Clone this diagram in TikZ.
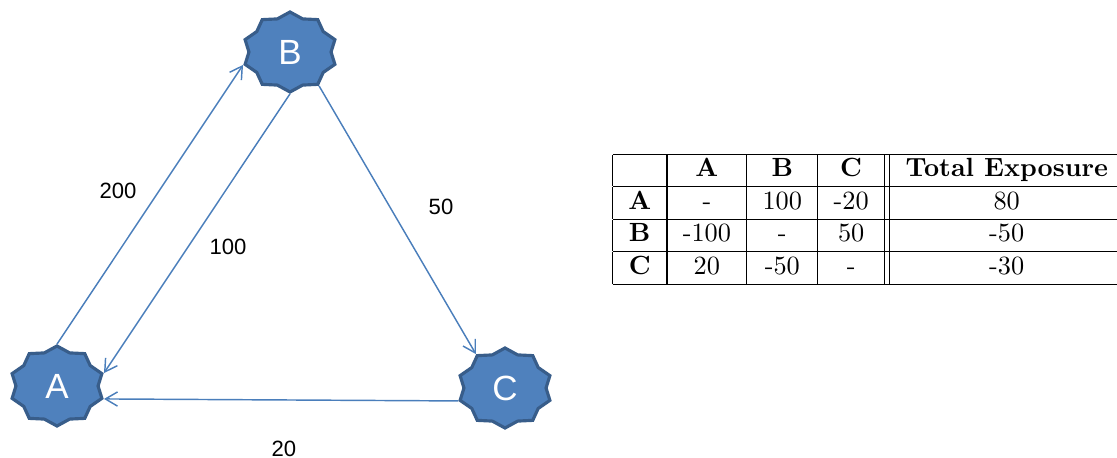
\documentclass[tikz,border=0pt]{standalone}
\usepackage{fontspec}
\newfontfamily\arialfont{Liberation Sans}
\usepackage{xcolor}
\usetikzlibrary{shapes.geometric,arrows.meta}
\definecolor{bankfill}{HTML}{4F81BD}
\definecolor{bankline}{HTML}{385D8A}
\definecolor{flowblue}{HTML}{4A7EBB}
\tikzset{>={Straight Barb[length=4.6pt,width=5.4pt]}}

\begin{document}
\begin{tikzpicture}[x=0.38pt, y=-0.38pt,
              bank/.style={star, star points=10, star point ratio=1.15, minimum size=30.4pt,
                           inner sep=0pt, fill=bankfill, draw=bankline, line width=1.2pt,
                           xscale=1.18, transform shape},
              banklabel/.style={text=white, font=\arialfont\fontsize{13.3}{15}\selectfont},
              flow/.style={->, flowblue, line width=0.55pt},
              amount/.style={font=\arialfont\fontsize{8.4}{10}\selectfont},
             ]
\useasboundingbox (0,0) rectangle (1117,458);
\coordinate (cA) at (57,386);
\coordinate (cB) at (290,52);
\coordinate (cC) at (505,388);
\node[bank] (A) at (cA) {};
\node[bank] (B) at (cB) {};
\node[bank] (C) at (cC) {};
\node[banklabel] (tA) at (A) {A};
\node[banklabel] (tB) at (B) {B};
\node[banklabel] (tC) at (C) {C};
% exposures
\draw[flow] (A.outer point 1) -- (B.outer point 4);
\draw[flow] (B.outer point 6) -- (A.outer point 9);
\draw[flow] (B.outer point 7) -- (C.outer point 2);
\draw[flow] (C.outer point 4) -- (A.outer point 8);
\node[amount] (lAB) at (118,191) {200};
\node[amount] (lBA) at (228,247) {100};
\node[amount] (lBC) at (441,207) {50};
\node[amount] (lCA) at (284,449) {20};
% table
\node[anchor=north west, inner sep=0pt] (exposure) at (612,153) {%
\begin{tabular}{|c|c|c|c||c|}
\hline
 & \textbf{A} & \textbf{B} & \textbf{C} & \textbf{Total Exposure}\\
\hline
\textbf{A} & - & 100 & -20 & 80\\
\hline
\textbf{B} & -100 & - & 50 & -50\\
\hline
\textbf{C} & 20 & -50 & - & -30\\
\hline
\end{tabular}};
\end{tikzpicture}
\end{document}
